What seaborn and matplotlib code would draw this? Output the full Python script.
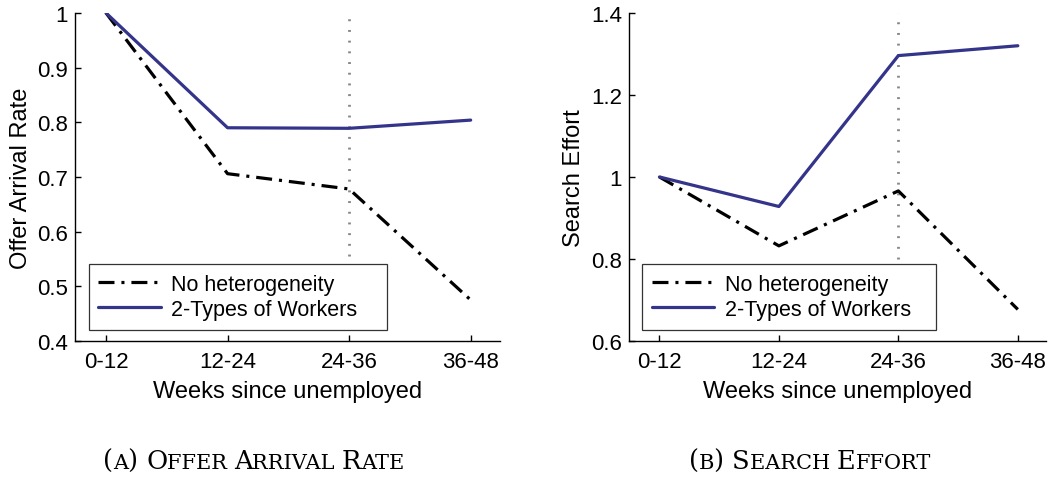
import matplotlib.pyplot as plt
import numpy as np
import pandas as pd
import seaborn as sns
from matplotlib.offsetbox import AnchoredOffsetbox, HPacker, TextArea

weeks = ["0-12", "12-24", "24-36", "36-48"]
series_names = ["No heterogeneity", "2-Types of Workers"]

# panel A: offer arrival rate
offer_nohet = [1.0, 0.706, 0.678, 0.475]
offer_2types = [1.0, 0.790, 0.789, 0.804]

# panel B: search effort
effort_nohet = [1.0, 0.832, 0.966, 0.677]
effort_2types = [1.0, 0.928, 1.296, 1.320]

sns.set_style("ticks")
plt.rcParams["font.family"] = ["Liberation Sans", "DejaVu Sans"]
plt.rcParams["lines.scale_dashes"] = False
plt.rcParams["xtick.direction"] = "in"
plt.rcParams["ytick.direction"] = "in"
for k in ["text.color", "axes.labelcolor", "xtick.color", "ytick.color", "axes.edgecolor"]:
    plt.rcParams[k] = "black"

blue = "#34348a"


def make_df(a, b):
    return pd.DataFrame({
        "x": list(range(len(weeks))) * 2,
        "y": a + b,
        "series": [series_names[0]] * len(a) + [series_names[1]] * len(b),
    })


fig = plt.figure(figsize=(10.49, 4.81), dpi=100)
ax1 = fig.add_axes([0.0715, 0.289, 0.405, 0.682])
ax2 = fig.add_axes([0.5996, 0.289, 0.398, 0.682])

panels = [
    (ax1, make_df(offer_nohet, offer_2types), "Offer Arrival Rate",
     (0.4, 1.0), np.arange(0.4, 1.01, 0.1), ["0.4", "0.5", "0.6", "0.7", "0.8", "0.9", "1"], 0.555),
    (ax2, make_df(effort_nohet, effort_2types), "Search Effort",
     (0.6, 1.4), np.arange(0.6, 1.41, 0.2), ["0.6", "0.8", "1", "1.2", "1.4"], 0.80),
]

for ax, df, ylab, ylim, yt, ytl, vstart in panels:
    sns.lineplot(data=df, x="x", y="y", hue="series", style="series",
                 palette=["black", blue],
                 dashes=[(11.5, 5, 2.2, 5), ""],
                 linewidth=2.3, ax=ax, legend=False)
    ax.plot([2, 2], [vstart, ylim[1]], color="#888888", linestyle=(0, (1.4, 6.3)),
            linewidth=2.0, zorder=1)
    ax.set_xlim(-0.255, 3.24)
    ax.set_ylim(*ylim)
    ax.set_xticks(range(len(weeks)))
    ax.set_xticklabels(weeks)
    ax.set_yticks(yt)
    ax.set_yticklabels(ytl)
    ax.set_xlabel("Weeks since unemployed", fontsize=17, labelpad=6)
    ax.set_ylabel(ylab, fontsize=17, labelpad=4)
    ax.tick_params(axis="x", pad=7)
    ax.tick_params(labelsize=16, length=4, width=1, color="black", labelcolor="black")
    ax.tick_params(axis="y", pad=5)
    sns.despine(ax=ax)
    for s in ["left", "bottom"]:
        ax.spines[s].set_linewidth(1.0)
        ax.spines[s].set_color("black")
    handles = [
        plt.Line2D([], [], color="black", linewidth=2.3, linestyle=(0, (11.5, 5, 2.2, 5))),
        plt.Line2D([], [], color=blue, linewidth=2.3),
    ]
    leg = ax.legend(handles, series_names, loc="lower left",
                    bbox_to_anchor=(0.032, 0.035, 0.703, 0.2), mode="expand",
                    fontsize=15.5, frameon=True, fancybox=False, edgecolor="black",
                    handlelength=2.9, handletextpad=0.5, borderpad=0.45,
                    labelspacing=0.2, borderaxespad=0)
    leg.get_frame().set_linewidth(0.9)


def small_caps_caption(letter, words, xfrac):
    big = dict(family="DejaVu Serif", fontsize=18.5, color="black")
    small = dict(family="DejaVu Serif", fontsize=15, color="black")
    parts = [TextArea("(", textprops=big), TextArea(letter, textprops=small),
             TextArea(") ", textprops=big)]
    for i, w in enumerate(words):
        sep = " " if i < len(words) - 1 else ""
        parts.append(TextArea(w[0], textprops=big))
        parts.append(TextArea(w[1:].upper() + sep, textprops=small))
    box = HPacker(children=parts, align="baseline", pad=0, sep=0)
    anch = AnchoredOffsetbox(loc="center", child=box, frameon=False,
                             bbox_to_anchor=(xfrac, 0.04), bbox_transform=fig.transFigure,
                             borderpad=0, pad=0)
    fig.add_artist(anch)


small_caps_caption("A", ["Offer", "Arrival", "Rate"], 0.2417)
small_caps_caption("B", ["Search", "Effort"], 0.772)

fig.savefig("out.png", dpi=100)
